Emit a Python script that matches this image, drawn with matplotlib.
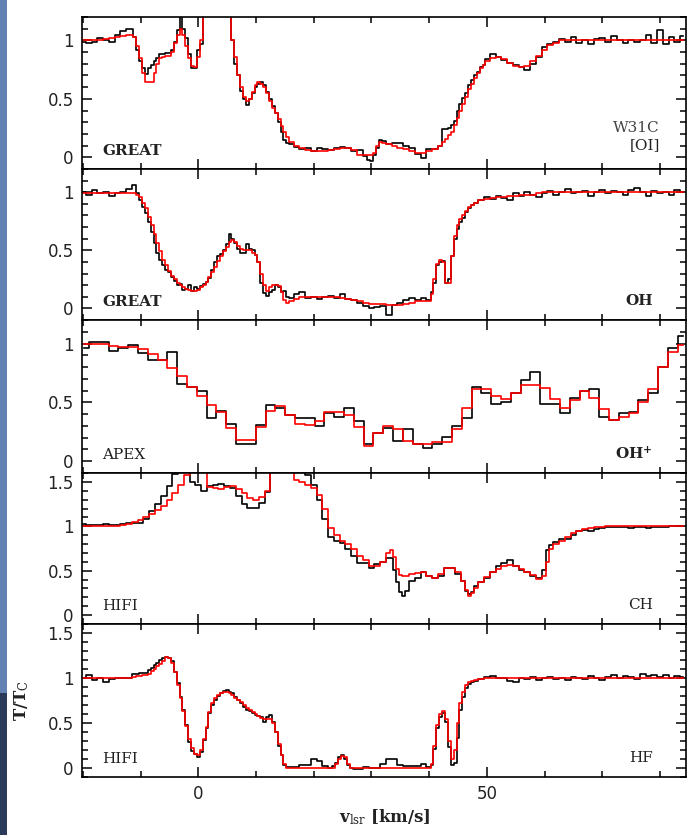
import numpy as np
import matplotlib
matplotlib.use("Agg")
import matplotlib.pyplot as plt
from matplotlib.ticker import FixedLocator, MultipleLocator, FixedFormatter
from matplotlib.patches import Rectangle

plt.rcParams["mathtext.fontset"] = "dejavuserif"


def channels(*segments):
    """Channel centres (km/s) of a spectrum, built from (start, stop, width) runs."""
    return np.concatenate([np.arange(a, b + 1e-6, s) for a, b, s in segments])


# ---------------- [OI]  (GREAT) ----------------
oi_v = channels((-20, -12, 1), (-11.5, 1, 0.5), (2, 5, 1), (5.5, 16, 0.5),
                (17, 29, 1), (29.5, 32, 0.5), (33, 41, 1), (42, 50, 0.5), (51, 84, 1))
oi_obs = [0.99, 0.98, 0.99, 1.02, 1.0, 0.99, 1.05, 1.08, 1.1,
          1.1, 1.03, 0.92, 0.82, 0.76, 0.71, 0.76, 0.79, 0.82, 0.85, 0.88, 0.88, 0.89,
          0.89, 0.92, 0.99, 1.09, 1.22, 1.1, 1.02, 0.88, 0.76, 0.76, 0.92, 0.97, 1.5,
          1.5, 1.5, 1.5, 1.5,
          1.4, 1.0, 0.8, 0.7, 0.57, 0.5, 0.45, 0.5, 0.55, 0.6, 0.63, 0.64, 0.62, 0.56,
          0.5, 0.44, 0.38, 0.3, 0.22, 0.15, 0.12, 0.11,
          0.09, 0.07, 0.08, 0.05, 0.08, 0.07, 0.06, 0.08, 0.09, 0.08, 0.05, 0.06, 0.01,
          -0.02, -0.03, 0.02, 0.08, 0.15, 0.14,
          0.11, 0.12, 0.12, 0.1, 0.08, 0.03, -0.01, 0.07, 0.07,
          0.1, 0.24, 0.24, 0.25, 0.28, 0.31, 0.4, 0.46, 0.51, 0.55, 0.62, 0.66, 0.7,
          0.73, 0.77, 0.79, 0.84,
          0.88, 0.86, 0.83, 0.81, 0.79, 0.77, 0.75, 0.8, 0.86, 0.94,
          0.97, 0.99, 1.01, 0.99, 1.03, 0.98, 1.0, 0.97, 1.01, 1.02,
          0.99, 1.04, 1.0, 0.98, 1.0, 0.99, 1.0, 1.05, 0.98, 1.09,
          0.97, 1.03, 0.99, 1.04]
oi_model = [1.0, 1.0, 1.0, 1.0, 1.01, 1.02, 1.03, 1.04, 1.05,
            1.05, 1.03, 0.95, 0.85, 0.72, 0.64, 0.64, 0.64, 0.72, 0.8, 0.85, 0.86, 0.87,
            0.87, 0.9, 0.98, 1.05, 1.1, 1.05, 0.95, 0.85, 0.78, 0.77, 0.86, 1.0, 1.5,
            1.5, 1.5, 1.5, 1.5,
            1.3, 1.0, 0.86, 0.7, 0.6, 0.52, 0.48, 0.5, 0.56, 0.62, 0.64, 0.63, 0.6, 0.55,
            0.48, 0.42, 0.38, 0.33, 0.27, 0.22, 0.17, 0.13,
            0.1, 0.08, 0.06, 0.05, 0.05, 0.05, 0.06, 0.07, 0.08, 0.08, 0.06, 0.02, 0.02,
            0.02, 0.02, 0.04, 0.1, 0.13, 0.12,
            0.11, 0.1, 0.08, 0.07, 0.05, 0.04, 0.04, 0.05, 0.07,
            0.1, 0.13, 0.16, 0.19, 0.22, 0.28, 0.34, 0.4, 0.46, 0.52, 0.58, 0.63, 0.68,
            0.72, 0.76, 0.79, 0.82,
            0.85, 0.86, 0.84, 0.81, 0.78, 0.77, 0.78, 0.82, 0.87, 0.92,
            0.96, 0.98, 1.0, 1.0, 1.0, 1.0, 1.0, 1.0, 1.0, 1.0,
            1.0, 1.0, 1.0, 1.0, 1.0, 1.0, 1.0, 1.0, 1.0, 1.0,
            1.0, 1.0, 1.0, 1.0]

# ---------------- OH  (GREAT) ----------------
oh_v = channels((-20, -11, 1), (-10.5, 16, 0.5), (17, 40, 1), (40.5, 48, 0.5), (49, 84, 1))
oh_obs = [1.0, 0.98, 1.02, 0.99, 1.0, 0.97, 0.99, 1.0, 1.03, 1.06,
          0.99, 0.93, 0.87, 0.82, 0.74, 0.66, 0.56, 0.48, 0.42, 0.37,
          0.33, 0.31, 0.27, 0.24, 0.2, 0.21, 0.16, 0.17, 0.2, 0.15,
          0.18, 0.17, 0.19, 0.21, 0.23, 0.26, 0.33, 0.4, 0.45, 0.47,
          0.5, 0.55, 0.64, 0.6, 0.56, 0.51, 0.48, 0.48, 0.55, 0.51,
          0.5, 0.46, 0.4, 0.22, 0.13, 0.11, 0.14, 0.16, 0.2, 0.18,
          0.14, 0.15, 0.1, 0.09,
          0.12, 0.14, 0.09, 0.1, 0.08, 0.1, 0.11, 0.09, 0.12, 0.08,
          0.07, 0.05, 0.02, 0.0, 0.01, 0.02, -0.06, 0.03, 0.05, 0.07,
          0.09, 0.07, 0.09, 0.07,
          0.14, 0.22, 0.37, 0.4, 0.41, 0.22, 0.25, 0.45, 0.6, 0.68,
          0.74, 0.78, 0.83, 0.86, 0.89, 0.91,
          0.93, 0.96, 0.94, 0.97, 0.95, 0.93, 0.99, 0.97, 1.0, 0.98,
          0.96, 0.99, 1.01, 0.98, 1.0, 1.03, 0.99, 1.0, 1.01, 0.97,
          1.0, 1.02, 0.99, 1.01, 1.0, 0.98, 1.02, 1.04, 1.0, 0.97,
          1.01, 0.99, 1.0, 0.98, 1.02, 1.0]
oh_model = [0.99, 0.99, 0.99, 0.99, 0.99, 0.99, 0.99, 0.99, 0.99, 0.99,
            0.98, 0.96, 0.91, 0.86, 0.79, 0.72, 0.64, 0.56, 0.49, 0.42,
            0.37, 0.32, 0.28, 0.25, 0.22, 0.2, 0.18, 0.17, 0.16, 0.15,
            0.15, 0.16, 0.18, 0.2, 0.23, 0.27, 0.31, 0.36, 0.41, 0.45,
            0.49, 0.53, 0.57, 0.59, 0.57, 0.54, 0.51, 0.5, 0.5, 0.5,
            0.48, 0.46, 0.4, 0.3, 0.2, 0.15, 0.18, 0.2, 0.2, 0.19,
            0.14, 0.07, 0.05, 0.06,
            0.08, 0.1, 0.1, 0.1, 0.1, 0.1, 0.1, 0.1, 0.09, 0.08,
            0.07, 0.06, 0.05, 0.04, 0.04, 0.04, 0.03, 0.03, 0.03, 0.04,
            0.05, 0.06, 0.06, 0.06,
            0.12, 0.25, 0.38, 0.42, 0.4, 0.22, 0.22, 0.45, 0.62, 0.72,
            0.77, 0.8, 0.84, 0.87, 0.89, 0.91,
            0.93, 0.94, 0.95, 0.96, 0.96, 0.97, 0.97, 0.98, 0.98, 0.98,
            0.99, 1.0, 1.0, 1.0, 1.0, 1.0, 1.0, 1.0, 1.0, 1.0,
            1.0, 1.0, 1.0, 1.0, 1.0, 1.0, 1.0, 1.0, 1.0, 1.0,
            1.0, 1.0, 1.0, 1.0, 1.0, 1.0]

# ---------------- OH+  (APEX), 1.7 km/s channels ----------------
ohp_v = channels((-19.8, 83.9, 1.7))
ohp_obs = [0.96, 1.01, 1.01, 0.94, 0.96, 0.99, 0.92, 0.86, 0.86, 0.93,
           0.66, 0.63, 0.6, 0.37, 0.43, 0.32, 0.15, 0.15, 0.31, 0.48,
           0.45, 0.39, 0.37, 0.37, 0.3, 0.41, 0.38, 0.45, 0.34, 0.15,
           0.24, 0.28, 0.17, 0.27, 0.15, 0.11, 0.15, 0.21, 0.3, 0.37,
           0.63, 0.58, 0.49, 0.5, 0.58, 0.69, 0.76, 0.49, 0.49, 0.41,
           0.54, 0.6, 0.61, 0.38, 0.35, 0.41, 0.42, 0.52, 0.58, 0.8,
           0.96, 1.06]
ohp_model = [1.0, 1.0, 1.0, 0.98, 0.97, 0.97, 0.95, 0.91, 0.86, 0.79,
             0.72, 0.63, 0.55, 0.48, 0.42, 0.28, 0.18, 0.18, 0.29, 0.43,
             0.47, 0.39, 0.32, 0.31, 0.34, 0.42, 0.42, 0.39, 0.29, 0.13,
             0.24, 0.3, 0.27, 0.17, 0.15, 0.15, 0.16, 0.16, 0.27, 0.45,
             0.61, 0.61, 0.55, 0.53, 0.58, 0.65, 0.65, 0.62, 0.53, 0.45,
             0.52, 0.6, 0.54, 0.44, 0.35, 0.38, 0.41, 0.5, 0.61, 0.8,
             0.93, 0.99]

# ---------------- CH  (HIFI) ----------------
ch_v = channels((-20, 33, 1), (33.5, 36, 0.5), (37, 46, 1), (46.5, 48, 0.5),
                (49, 60, 1), (60.5, 61, 0.5), (62, 84, 1))
ch_obs = [1.03, 1.02, 1.02, 1.02, 1.03, 1.02, 1.02, 1.03, 1.04, 1.04,
          1.04, 1.08, 1.17, 1.25, 1.34, 1.45, 1.59, 1.65, 1.65, 1.5,
          1.47, 1.4, 1.45, 1.47, 1.48, 1.45, 1.43, 1.34, 1.25, 1.21,
          1.21, 1.26, 1.39, 1.65, 1.65, 1.65, 1.65, 1.65, 1.65, 1.58,
          1.47, 1.3, 1.08, 0.88, 0.84, 0.81, 0.75, 0.66, 0.59, 0.59,
          0.53, 0.57, 0.6, 0.64,
          0.64, 0.51, 0.37, 0.26, 0.22, 0.27,
          0.38, 0.42, 0.48, 0.44, 0.42, 0.44, 0.53, 0.53, 0.46, 0.38,
          0.27, 0.24, 0.26, 0.33,
          0.37, 0.42, 0.49, 0.55, 0.59, 0.62, 0.55, 0.51, 0.49, 0.44, 0.42, 0.51,
          0.73, 0.79,
          0.82, 0.86, 0.86, 0.9, 0.95, 0.96, 0.95, 0.97, 0.98, 0.99,
          0.99, 0.99, 0.99, 0.98, 0.99, 0.99, 0.98, 0.99, 0.99, 0.99,
          1.0, 1.0, 1.0]
ch_model = [1.0, 1.0, 1.0, 1.0, 1.0, 1.0, 1.0, 1.01, 1.03, 1.05,
            1.07, 1.1, 1.14, 1.18, 1.23, 1.3, 1.38, 1.47, 1.58, 1.65,
            1.65, 1.65, 1.44, 1.43, 1.42, 1.44, 1.45, 1.42, 1.37, 1.32,
            1.3, 1.33, 1.4, 1.65, 1.65, 1.65, 1.65, 1.52, 1.5, 1.47,
            1.43, 1.35, 1.2, 0.98, 0.9, 0.84, 0.8, 0.74, 0.67, 0.62,
            0.55, 0.55, 0.6, 0.7,
            0.73, 0.65, 0.52, 0.45, 0.44, 0.44,
            0.46, 0.47, 0.48, 0.44, 0.42, 0.46, 0.53, 0.53, 0.48, 0.38,
            0.28, 0.22, 0.25, 0.3,
            0.37, 0.43, 0.48, 0.52, 0.55, 0.56, 0.55, 0.52, 0.49, 0.45, 0.41, 0.44,
            0.6, 0.75,
            0.8, 0.84, 0.88, 0.92, 0.95, 0.97, 0.98, 0.99, 0.99, 1.0,
            1.0, 1.0, 1.0, 1.0, 1.0, 1.0, 1.0, 1.0, 1.0, 1.0,
            1.0, 1.0, 1.0]

# ---------------- HF  (HIFI) ----------------
hf_v = channels((-20, -11, 1), (-10.5, 16, 0.5), (17, 23, 1), (23.5, 27, 0.5),
                (28, 40, 1), (40.5, 48, 0.5), (49, 84, 1))
hf_obs = [1.0, 1.03, 0.98, 1.0, 0.96, 0.99, 1.0, 1.0, 1.0, 1.04,
          1.05, 1.06, 1.06, 1.06, 1.09, 1.11, 1.14, 1.17, 1.2, 1.22,
          1.23, 1.22, 1.19, 1.07, 0.94, 0.79, 0.64, 0.48, 0.29, 0.19,
          0.16, 0.12, 0.18, 0.31, 0.44, 0.61, 0.7, 0.76, 0.8, 0.83,
          0.86, 0.87, 0.85, 0.83, 0.79, 0.76, 0.72, 0.68, 0.65, 0.63,
          0.61, 0.59, 0.58, 0.57, 0.51, 0.57, 0.59, 0.51, 0.4, 0.25,
          0.14, 0.03, 0.01, 0.01,
          0.01, 0.03, 0.03, 0.1, 0.08, 0.02, 0.0,
          0.02, 0.06, 0.12, 0.14, 0.1, 0.03, 0.0, -0.01,
          -0.01, 0.01, 0.0, 0.0, 0.04, 0.1, 0.1, 0.03, 0.02, 0.02, 0.02, 0.04, 0.01,
          0.03, 0.21, 0.44, 0.57, 0.61, 0.51, 0.23, 0.03, 0.06, 0.33,
          0.64, 0.79, 0.89, 0.93, 0.96, 0.97,
          0.99, 1.01, 1.02, 1.0, 1.0, 0.97, 0.96, 1.0, 0.99, 1.01,
          0.98, 1.0, 1.01, 0.99, 1.0, 0.98, 1.01, 1.0, 0.99, 1.02,
          1.0, 0.98, 1.01, 1.03, 1.0, 1.02, 1.01, 0.99, 1.04, 1.02,
          1.03, 1.01, 1.03, 1.0, 1.02, 1.01]
hf_model = [1.0, 1.0, 1.0, 1.0, 1.0, 1.0, 1.0, 1.0, 1.0, 1.01,
            1.02, 1.02, 1.03, 1.03, 1.05, 1.08, 1.1, 1.13, 1.16, 1.19,
            1.23, 1.22, 1.17, 1.07, 0.92, 0.78, 0.63, 0.47, 0.32, 0.22,
            0.16, 0.14, 0.2, 0.32, 0.46, 0.62, 0.72, 0.78, 0.81, 0.83,
            0.84, 0.84, 0.83, 0.81, 0.78, 0.76, 0.73, 0.7, 0.67, 0.65,
            0.62, 0.6, 0.58, 0.56, 0.55, 0.55, 0.54, 0.5, 0.4, 0.27,
            0.15, 0.05, 0.0, 0.0,
            0.0, 0.0, 0.0, 0.0, 0.0, 0.0, 0.0,
            0.0, 0.05, 0.1, 0.13, 0.12, 0.05, 0.0, 0.0,
            0.0, 0.0, 0.0, 0.0, 0.0, 0.0, 0.0, 0.0, 0.0, 0.0, 0.0, 0.0, 0.0,
            0.05, 0.25, 0.48, 0.6, 0.63, 0.55, 0.3, 0.1, 0.2, 0.5,
            0.72, 0.85, 0.92, 0.96, 0.97, 0.98,
            0.99, 1.0, 1.0, 1.0, 1.0, 1.0, 1.0, 1.0, 1.0, 1.0,
            1.0, 1.0, 1.0, 1.0, 1.0, 1.0, 1.0, 1.0, 1.0, 1.0,
            1.0, 1.0, 1.0, 1.0, 1.0, 1.0, 1.0, 1.0, 1.0, 1.0,
            1.0, 1.0, 1.0, 1.0, 1.0, 1.0]

panels = [
    (oi_v, oi_obs, oi_model, "GREAT", "bold", ["W31C", "[OI]"], (-0.1, 1.2), [0, 0.5, 1], ["0", "0.5", "1"]),
    (oh_v, oh_obs, oh_model, "GREAT", "bold", ["OH"], (-0.1, 1.2), [0, 0.5, 1], ["0", "0.5", "1"]),
    (ohp_v, ohp_obs, ohp_model, "APEX", "normal", [r"OH$^{\mathbf{+}}$"], (-0.1, 1.2), [0, 0.5, 1], ["0", "0.5", "1"]),
    (ch_v, ch_obs, ch_model, "HIFI", "normal", ["CH"], (-0.1, 1.6), [0, 0.5, 1, 1.5], ["0", "0.5", "1", "1.5"]),
    (hf_v, hf_obs, hf_model, "HIFI", "normal", ["HF"], (-0.1, 1.6), [0, 0.5, 1, 1.5], ["0", "0.5", "1", "1.5"]),
]
for p in panels:
    assert len(p[0]) == len(p[1]) == len(p[2]), (p[3], len(p[0]), len(p[1]), len(p[2]))

W, H = 687, 835
fig = plt.figure(figsize=(W / 100, H / 100), dpi=100, facecolor="white")

# thin slide-background strip on the left edge
fig.patches.append(Rectangle((0, 0.17), 7 / W, 0.83, transform=fig.transFigure,
                             facecolor="#6481b3", edgecolor="none"))
fig.patches.append(Rectangle((0, 0.0), 7 / W, 0.17, transform=fig.transFigure,
                             facecolor="#2b3a58", edgecolor="none"))

tops = [17, 169, 320, 473, 624]
bottoms = [169, 320, 473, 624, 777]
x0, x1 = 82, 686
tick_font = {"family": "DejaVu Sans", "size": 12, "color": "#222222"}
lab_font = "DejaVu Serif"

for i, (v, obs, mod, inst, inst_w, species, ylim, yt, ytl) in enumerate(panels):
    ax = fig.add_axes([x0 / W, 1 - bottoms[i] / H, (x1 - x0) / W, (bottoms[i] - tops[i]) / H])
    ax.plot(v, obs, drawstyle="steps-mid", color="black", lw=1.2)
    ax.plot(v, mod, drawstyle="steps-mid", color="#ff0000", lw=1.2)
    ax.set_xlim(-20.15, 84.5)
    ax.set_ylim(*ylim)
    ax.xaxis.set_major_locator(FixedLocator([0, 50]))
    ax.xaxis.set_minor_locator(MultipleLocator(10))
    ax.yaxis.set_major_locator(FixedLocator(yt))
    ax.yaxis.set_major_formatter(FixedFormatter(ytl))
    ax.yaxis.set_minor_locator(MultipleLocator(0.1))
    ax.tick_params(which="both", direction="in", top=True, right=True, width=1.1, color="black")
    ax.tick_params(which="major", length=7.5, pad=6)
    ax.tick_params(which="minor", length=4)
    for lab in ax.get_yticklabels():
        lab.set_fontfamily(tick_font["family"])
        lab.set_fontsize(tick_font["size"])
        lab.set_color(tick_font["color"])
    for s in ax.spines.values():
        s.set_linewidth(1.2)
    if i < 4:
        ax.tick_params(labelbottom=False)
    else:
        ax.set_xticklabels(["0", "50"], fontsize=12, family="DejaVu Sans", color="#222222")
    ax.text(0.033, 0.12, inst, transform=ax.transAxes, ha="left", va="center",
            family=lab_font, fontsize=11, weight=inst_w, color="#222222")
    if len(species) == 2:
        ax.text(0.957, 0.27, species[0], transform=ax.transAxes, ha="right", va="center",
                family=lab_font, fontsize=11, color="#444444")
        ax.text(0.957, 0.158, species[1], transform=ax.transAxes, ha="right", va="center",
                family=lab_font, fontsize=11, color="#222222")
    else:
        w = "bold" if species[0].startswith("OH") else "normal"
        ax.text(0.945, 0.125, species[0], transform=ax.transAxes, ha="right", va="center",
                family=lab_font, fontsize=11, weight=w, color="#222222")

fig.text(385 / W, 1 - 817 / H, r"v$_{\rm lsr}$ [km/s]", ha="center", va="center",
         family=lab_font, fontsize=12, weight="bold", color="#222222")
fig.text(22 / W, 1 - 700 / H, r"T/T$_{\rm C}$", ha="center", va="center", rotation=90,
         family=lab_font, fontsize=12, weight="bold", color="#222222")

fig.savefig("out.png", dpi=100, facecolor="white")
